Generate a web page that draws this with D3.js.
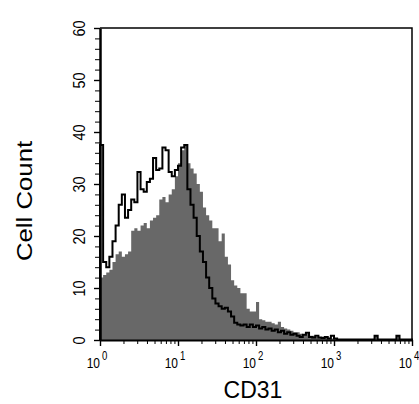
<!DOCTYPE html>
<html>
<head>
<meta charset="utf-8">
<script src="https://cdn.jsdelivr.net/npm/d3@7"></script>
<style>
  body { margin: 0; background: #fff; }
  text { font-family: "Liberation Sans", Arial, sans-serif; fill: #000; }
</style>
</head>
<body>
<div id="chart"></div>
<script>
// histogram channels: 25 per decade, from 10^0 to 10^4
var binsPerDecade = 25;

// filled (CD31 stained) histogram
var stainedCounts = [
  12, 12.5, 13, 13.5, 15, 16.5, 17, 16, 16.5, 17,
  21, 21.5, 21, 22, 22.5, 21.5, 23, 23.5, 24, 27,
  27.5, 26.5, 28, 29, 31.5, 34, 36.5, 37.5, 34, 33,
  32, 30, 28.5, 25.5, 24, 23, 21.5, 21.5, 19, 20.5,
  16, 14.5, 11.5, 10.5, 10, 9, 9, 6, 5.5, 5.5,
  7.3, 4, 3.8, 3.5, 3.5, 3.2, 3, 3.5, 2.5, 2.2,
  2, 1.8, 1.5, 1.5, 1.2, 1, 1.2, 0.8, 0.8, 0.6,
  0.5, 0.6, 0.4, 0.4, 0.3, 0.3, 0.2, 0.2, 0.1, 0.1,
  0.1, 0.1, 0.1, 0.1, 0.1, 0.1, 0.1, 0.1, 0.8, 0.1,
  0.1, 0.1, 0.1, 0.1, 0.1, 0.8, 0.1, 0.1, 0.1, 0.1
];

// open (control) histogram
var controlCounts = [
  37.5, 15, 14, 16, 19, 22, 26, 28, 23.5, 25,
  27, 26.5, 32.3, 29, 28.5, 30.4, 31, 35, 32.7, 33,
  37, 36.5, 32.3, 31.5, 32.7, 33.5, 37, 37.5, 29, 26,
  23.5, 20, 17, 15, 12, 10, 8, 7, 6.5, 6,
  6.2, 5.5, 4.5, 3.3, 3, 2.8, 3, 2.5, 3, 2.5,
  2.8, 2.2, 2.5, 2, 2.2, 1.8, 2, 1.5, 1.8, 1.2,
  1.5, 1, 1.2, 0.8, 0.6, 1, 1.4, 0.6, 0.5, 0.8,
  0.5, 0.4, 0.6, 0.3, 0.8, 0.3, 0.1, 0.1, 0.1, 0.1,
  0.1, 0.1, 0.1, 0.1, 0.1, 0.1, 0.1, 0.1, 0.8, 0.1,
  0.1, 0.1, 0.1, 0.1, 0.1, 0.8, 0.1, 0.1, 0.1, 0.1
];

var yMajorTicks = [0, 10, 20, 30, 40, 50, 60];
var xDecades = [1, 10, 100, 1000, 10000];
var xExponents = ["0", "1", "2", "3", "4"];

var w = 419, h = 404;

var svg = d3.select("#chart").append("svg")
  .attr("width", w)
  .attr("height", h);

var x = d3.scaleLog().domain([1, 10000]).range([100, 412]);
var y = d3.scaleLinear().domain([0, 60]).range([340, 28]);

var edges = d3.range(0, stainedCounts.length + 1).map(function(i) {
  return Math.pow(10, i / binsPerDecade);
});

function stepPoints(counts) {
  var pts = [[edges[0], 0]];
  counts.forEach(function(c, i) { pts.push([edges[i], c]); });
  pts.push([edges[counts.length], counts[counts.length - 1]]);
  pts.push([edges[counts.length], 0]);
  return pts;
}

//filled histogram
var area = d3.area()
  .x(function(d) { return x(d[0]); })
  .y0(y(0))
  .y1(function(d) { return y(d[1]); })
  .curve(d3.curveStepAfter);

svg.append("path")
  .attr("d", area(stepPoints(stainedCounts)))
  .attr("fill", "#686868");

//open histogram
var line = d3.line()
  .x(function(d) { return x(d[0]); })
  .y(function(d) { return y(d[1]); })
  .curve(d3.curveStepAfter);

svg.append("path")
  .attr("d", line(stepPoints(controlCounts)))
  .attr("fill", "none")
  .attr("stroke", "#000")
  .attr("stroke-width", 2);

// frame top + right
svg.append("path")
  .attr("d", "M" + x(1) + "," + y(60) + "H" + x(10000) + "V" + y(0))
  .attr("fill", "none")
  .attr("stroke", "#000")
  .attr("stroke-width", 1.5);

// y axis: minor ticks every 2
svg.append("g")
  .attr("transform", "translate(" + x(1) + ",0)")
  .call(d3.axisLeft(y).tickValues(d3.range(0, 61, 2)).tickSize(5).tickSizeOuter(0).tickFormat(""))
  .call(function(g) { g.select(".domain").remove(); });

var yAxis = svg.append("g")
  .attr("transform", "translate(" + x(1) + ",0)")
  .call(d3.axisLeft(y).tickValues(yMajorTicks).tickSize(6).tickSizeOuter(0));

yAxis.select(".domain").attr("stroke-width", 2.5);
yAxis.selectAll(".tick line").attr("stroke-width", 1.4);
yAxis.selectAll(".tick text")
  .attr("x", null)
  .attr("dy", null)
  .attr("text-anchor", "middle")
  .style("font-size", "17px")
  .attr("transform", "translate(-15,0) rotate(-90) scale(0.85,1)");

// x axis: minor ticks 2..9 per decade
var minorX = [];
xDecades.slice(0, 4).forEach(function(d) {
  for (var k = 2; k < 10; k++) minorX.push(d * k);
});

svg.append("g")
  .attr("transform", "translate(0," + y(0) + ")")
  .call(d3.axisBottom(x).tickValues(minorX).tickSize(4).tickSizeOuter(0).tickFormat(""))
  .call(function(g) { g.select(".domain").remove(); });

var xAxis = svg.append("g")
  .attr("transform", "translate(0," + y(0) + ")")
  .call(d3.axisBottom(x).tickValues(xDecades).tickSize(6).tickSizeOuter(0).tickFormat(""));

xAxis.select(".domain").attr("stroke-width", 2);
xAxis.selectAll(".tick line").attr("stroke-width", 1.4);

var xLabels = svg.append("g")
  .selectAll("g")
  .data(xDecades)
  .enter()
  .append("g")
  .attr("transform", function(d) { return "translate(" + x(d) + ",0)"; });

xLabels.append("text")
  .attr("text-anchor", "end")
  .attr("transform", "translate(0,368) scale(0.8,1)")
  .style("font-size", "15px")
  .text("10");

xLabels.append("text")
  .attr("text-anchor", "start")
  .attr("transform", "translate(2,360) scale(0.8,1)")
  .style("font-size", "12px")
  .text(function(d, i) { return xExponents[i]; });

// axis titles
svg.append("text")
  .attr("text-anchor", "middle")
  .attr("transform", "translate(32,201) rotate(-90) scale(1.12,1)")
  .style("font-size", "23px")
  .text("Cell Count");

svg.append("text")
  .attr("text-anchor", "middle")
  .attr("x", 253)
  .attr("y", 398)
  .style("font-size", "23px")
  .text("CD31");
</script>
</body>
</html>
